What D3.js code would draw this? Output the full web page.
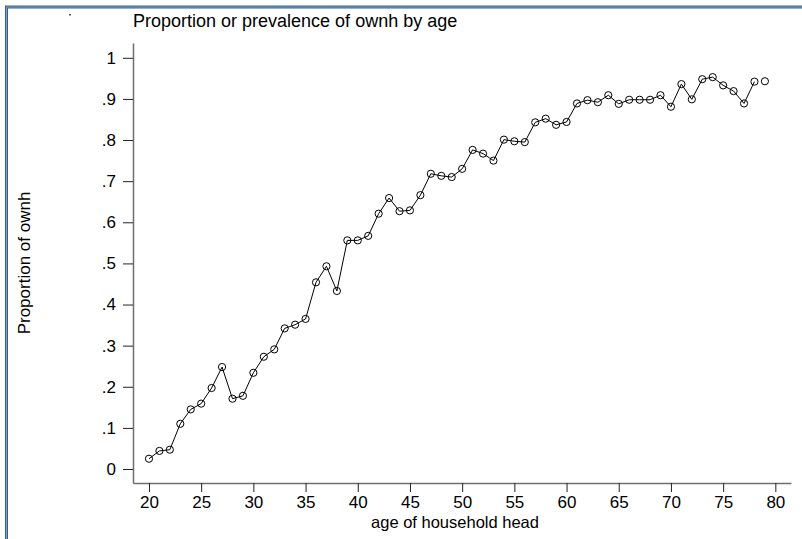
<!DOCTYPE html>
<html>
<head>
<meta charset="utf-8">
<script src="https://cdn.jsdelivr.net/npm/d3@7"></script>
<style>
  body { margin: 0; background: #fff; }
  svg { display: block; font-family: "Liberation Sans", Arial, sans-serif; }
  .axis path.domain { stroke: #6e6e6e; stroke-width: 1.5; }
  .axis line { stroke: #222; }
  .axis text { fill: #000; font-size: 17px; }
</style>
</head>
<body>
<div id="chart"></div>
<script>
// age of household head (x) and proportion owning (y)
var ages = d3.range(20, 80);
var proportion = [
  0.025, 0.044, 0.047, 0.110, 0.145, 0.159, 0.197, 0.248, 0.171, 0.178,
  0.234, 0.273, 0.291, 0.342, 0.351, 0.365, 0.454, 0.493, 0.433, 0.556,
  0.556, 0.567, 0.621, 0.659, 0.627, 0.629, 0.666, 0.718, 0.713, 0.710,
  0.730, 0.776, 0.767, 0.750, 0.801, 0.797, 0.795, 0.843, 0.852, 0.837,
  0.844, 0.889, 0.897, 0.892, 0.909, 0.888, 0.898, 0.898, 0.898, 0.909,
  0.881, 0.936, 0.899, 0.948, 0.953, 0.933, 0.919, 0.889, 0.942, 0.943
];
// the connecting line stops at 78 in the original graph
var lineLastAge = 78;

var xTicks = d3.range(20, 81, 5);
var yTicks = d3.range(0, 11).map(function (i) { return i / 10; });
var yTickLabels = ["0", ".1", ".2", ".3", ".4", ".5", ".6", ".7", ".8", ".9", "1"];

var titleText = "Proportion or prevalence of ownh by age";
var xTitle = "age of household head";
var yTitle = "Proportion of ownh";

(function () {
    "use strict";

    var W = 802, H = 539;

    var svg = d3.select("#chart").append("svg")
        .attr("width", W)
        .attr("height", H);

    // window frame (top + left edges)
    svg.append("path")
        .attr("d", "M6.5," + H + "V7H" + W)
        .attr("fill", "none")
        .attr("stroke", "#33618f")
        .attr("stroke-width", 3);
    svg.append("path")
        .attr("d", "M6.5," + H + "V7H" + W)
        .attr("fill", "none")
        .attr("stroke", "#8fb2d6")
        .attr("stroke-width", 0.8);

    // tiny mark at top left
    svg.append("rect")
        .attr("x", 69).attr("y", 14)
        .attr("width", 2).attr("height", 1.5)
        .attr("fill", "#555");

    // scales: axis lines run a bit beyond the data range
    var xScale = d3.scaleLinear().domain([18.47, 81.5]).range([133, 791]);
    var yScale = d3.scaleLinear().domain([-0.034, 1.036]).range([483, 43]);

    var xAxis = d3.axisBottom(xScale)
        .tickValues(xTicks)
        .tickSizeInner(9)
        .tickSizeOuter(0)
        .tickPadding(4)
        .tickFormat(d3.format("d"));

    var yAxis = d3.axisLeft(yScale)
        .tickValues(yTicks)
        .tickSizeInner(10)
        .tickSizeOuter(0)
        .tickPadding(7)
        .tickFormat(function (d, i) { return yTickLabels[i]; });

    svg.append("g")
        .attr("class", "x axis")
        .attr("transform", "translate(0," + yScale.range()[0] + ")")
        .call(xAxis);

    svg.append("g")
        .attr("class", "y axis")
        .attr("transform", "translate(" + xScale.range()[0] + ",0)")
        .call(yAxis);

    // let the css decide the axis fonts
    svg.selectAll(".axis").attr("font-family", null).attr("font-size", null);

    // data
    var data = ages.map(function (a, i) { return { age: a, p: proportion[i] }; });

    var line = d3.line()
        .defined(function (d) { return d.age <= lineLastAge; })
        .x(function (d) { return xScale(d.age); })
        .y(function (d) { return yScale(d.p); });

    svg.append("path")
        .datum(data)
        .attr("d", line)
        .attr("fill", "none")
        .attr("stroke", "#000")
        .attr("stroke-width", 1);

    svg.append("g").selectAll("circle")
        .data(data)
        .enter().append("circle")
        .attr("cx", function (d) { return xScale(d.age); })
        .attr("cy", function (d) { return yScale(d.p); })
        .attr("r", 3.6)
        .attr("fill", "none")
        .attr("stroke", "#000")
        .attr("stroke-width", 1);

    // titles
    svg.append("text")
        .attr("x", 133)
        .attr("y", 27)
        .attr("font-size", 18)
        .text(titleText);

    svg.append("text")
        .attr("x", 455)
        .attr("y", 528)
        .attr("text-anchor", "middle")
        .attr("font-size", 16.5)
        .text(xTitle);

    svg.append("text")
        .attr("transform", "translate(30," + 263 + ")rotate(-90)")
        .attr("text-anchor", "middle")
        .attr("font-size", 17)
        .text(yTitle);
})();
</script>
</body>
</html>
